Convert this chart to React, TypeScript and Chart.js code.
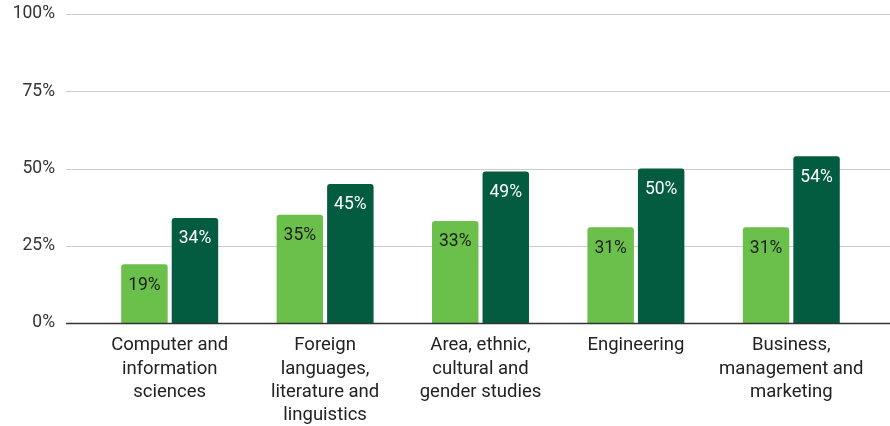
import React, { useEffect, useRef } from "react";
import { Chart, registerables } from "chart.js";

Chart.register(...registerables);

const categories: string[][] = [
  ["Computer and", "information", "sciences"],
  ["Foreign", "languages,", "literature and", "linguistics"],
  ["Area, ethnic,", "cultural and", "gender studies"],
  ["Engineering"],
  ["Business,", "management and", "marketing"],
];
const seriesA: number[] = [19, 35, 33, 31, 31];
const seriesB: number[] = [34, 45, 49, 50, 54];
const yTicks: number[] = [0, 25, 50, 75, 100];

const LIGHT = "#6bbf4b";
const DARK = "#035c40";

const gridPlugin = {
  id: "extGrid",
  beforeDatasetsDraw(chart: any) {
    const { ctx } = chart;
    const y = chart.scales.y;
    ctx.save();
    ctx.lineWidth = 1;
    ctx.strokeStyle = "#cccccc";
    for (const v of yTicks) {
      if (v === 0) continue;
      const py = Math.round(y.getPixelForValue(v)) + 0.5;
      ctx.beginPath();
      ctx.moveTo(66, py);
      ctx.lineTo(chart.width, py);
      ctx.stroke();
    }
    ctx.restore();
  },
  afterDatasetsDraw(chart: any) {
    const { ctx } = chart;
    const y = chart.scales.y;
    ctx.save();
    const py = Math.round(y.getPixelForValue(0)) + 0.5;
    ctx.strokeStyle = "#333333";
    ctx.lineWidth = 1.5;
    ctx.beginPath();
    ctx.moveTo(66, py);
    ctx.lineTo(chart.width, py);
    ctx.stroke();
    ctx.font = "17.5px Roboto";
    ctx.textAlign = "center";
    ctx.textBaseline = "middle";
    chart.data.datasets.forEach((ds: any, di: number) => {
      const meta = chart.getDatasetMeta(di);
      ctx.fillStyle = di === 0 ? "#1e1e1e" : "#ffffff";
      meta.data.forEach((el: any, i: number) => {
        ctx.fillText(ds.data[i] + "%", el.x, el.y + 21);
      });
    });
    ctx.restore();
  },
};

export default function App() {
  const ref = useRef<HTMLCanvasElement>(null);
  useEffect(() => {
    document.body.style.margin = "0";
    Chart.defaults.font.family = "Roboto";
    const chart = new Chart(ref.current!, {
      type: "bar",
      data: {
        labels: categories as any,
        datasets: [
          {
            label: "A",
            data: seriesA,
            backgroundColor: LIGHT,
            borderRadius: { topLeft: 3, topRight: 3, bottomLeft: 0, bottomRight: 0 },
            borderSkipped: false,
            categoryPercentage: 0.65,
            barPercentage: 0.92,
          },
          {
            label: "B",
            data: seriesB,
            backgroundColor: DARK,
            borderRadius: { topLeft: 3, topRight: 3, bottomLeft: 0, bottomRight: 0 },
            borderSkipped: false,
            categoryPercentage: 0.65,
            barPercentage: 0.92,
          },
        ],
      },
      options: {
        responsive: false,
        animation: false,
        devicePixelRatio: 1,
        layout: { padding: { top: 14, right: 21, left: 0, bottom: 0 } },
        plugins: { legend: { display: false }, tooltip: { enabled: false } },
        scales: {
          x: {
            grid: { display: false, drawTicks: false },
            border: { display: false },
            ticks: {
              color: "#222222",
              font: { size: 18.5, lineHeight: 1.26 },
              padding: 11,
              maxRotation: 0,
              autoSkip: false,
            },
            afterFit(scale: any) {
              scale.height = 103;
              scale.paddingLeft = 0;
              scale.paddingRight = 0;
            },
          },
          y: {
            min: 0,
            max: 100,
            grid: { display: false, drawTicks: false },
            border: { display: false },
            ticks: {
              stepSize: 25,
              color: "#333333",
              font: { size: 17.5 },
              padding: 37,
              callback: (v: any) => v + "%",
            },
            afterFit(scale: any) {
              scale.width = 92;
              scale.paddingTop = 0;
              scale.paddingBottom = 0;
            },
          },
        },
      },
      plugins: [gridPlugin],
    });
    return () => chart.destroy();
  }, []);
  return (
    <div style={{ position: "absolute", left: 0, top: 0, width: 890, height: 426 }}>
      <canvas ref={ref} width={890} height={426} />
    </div>
  );
}
